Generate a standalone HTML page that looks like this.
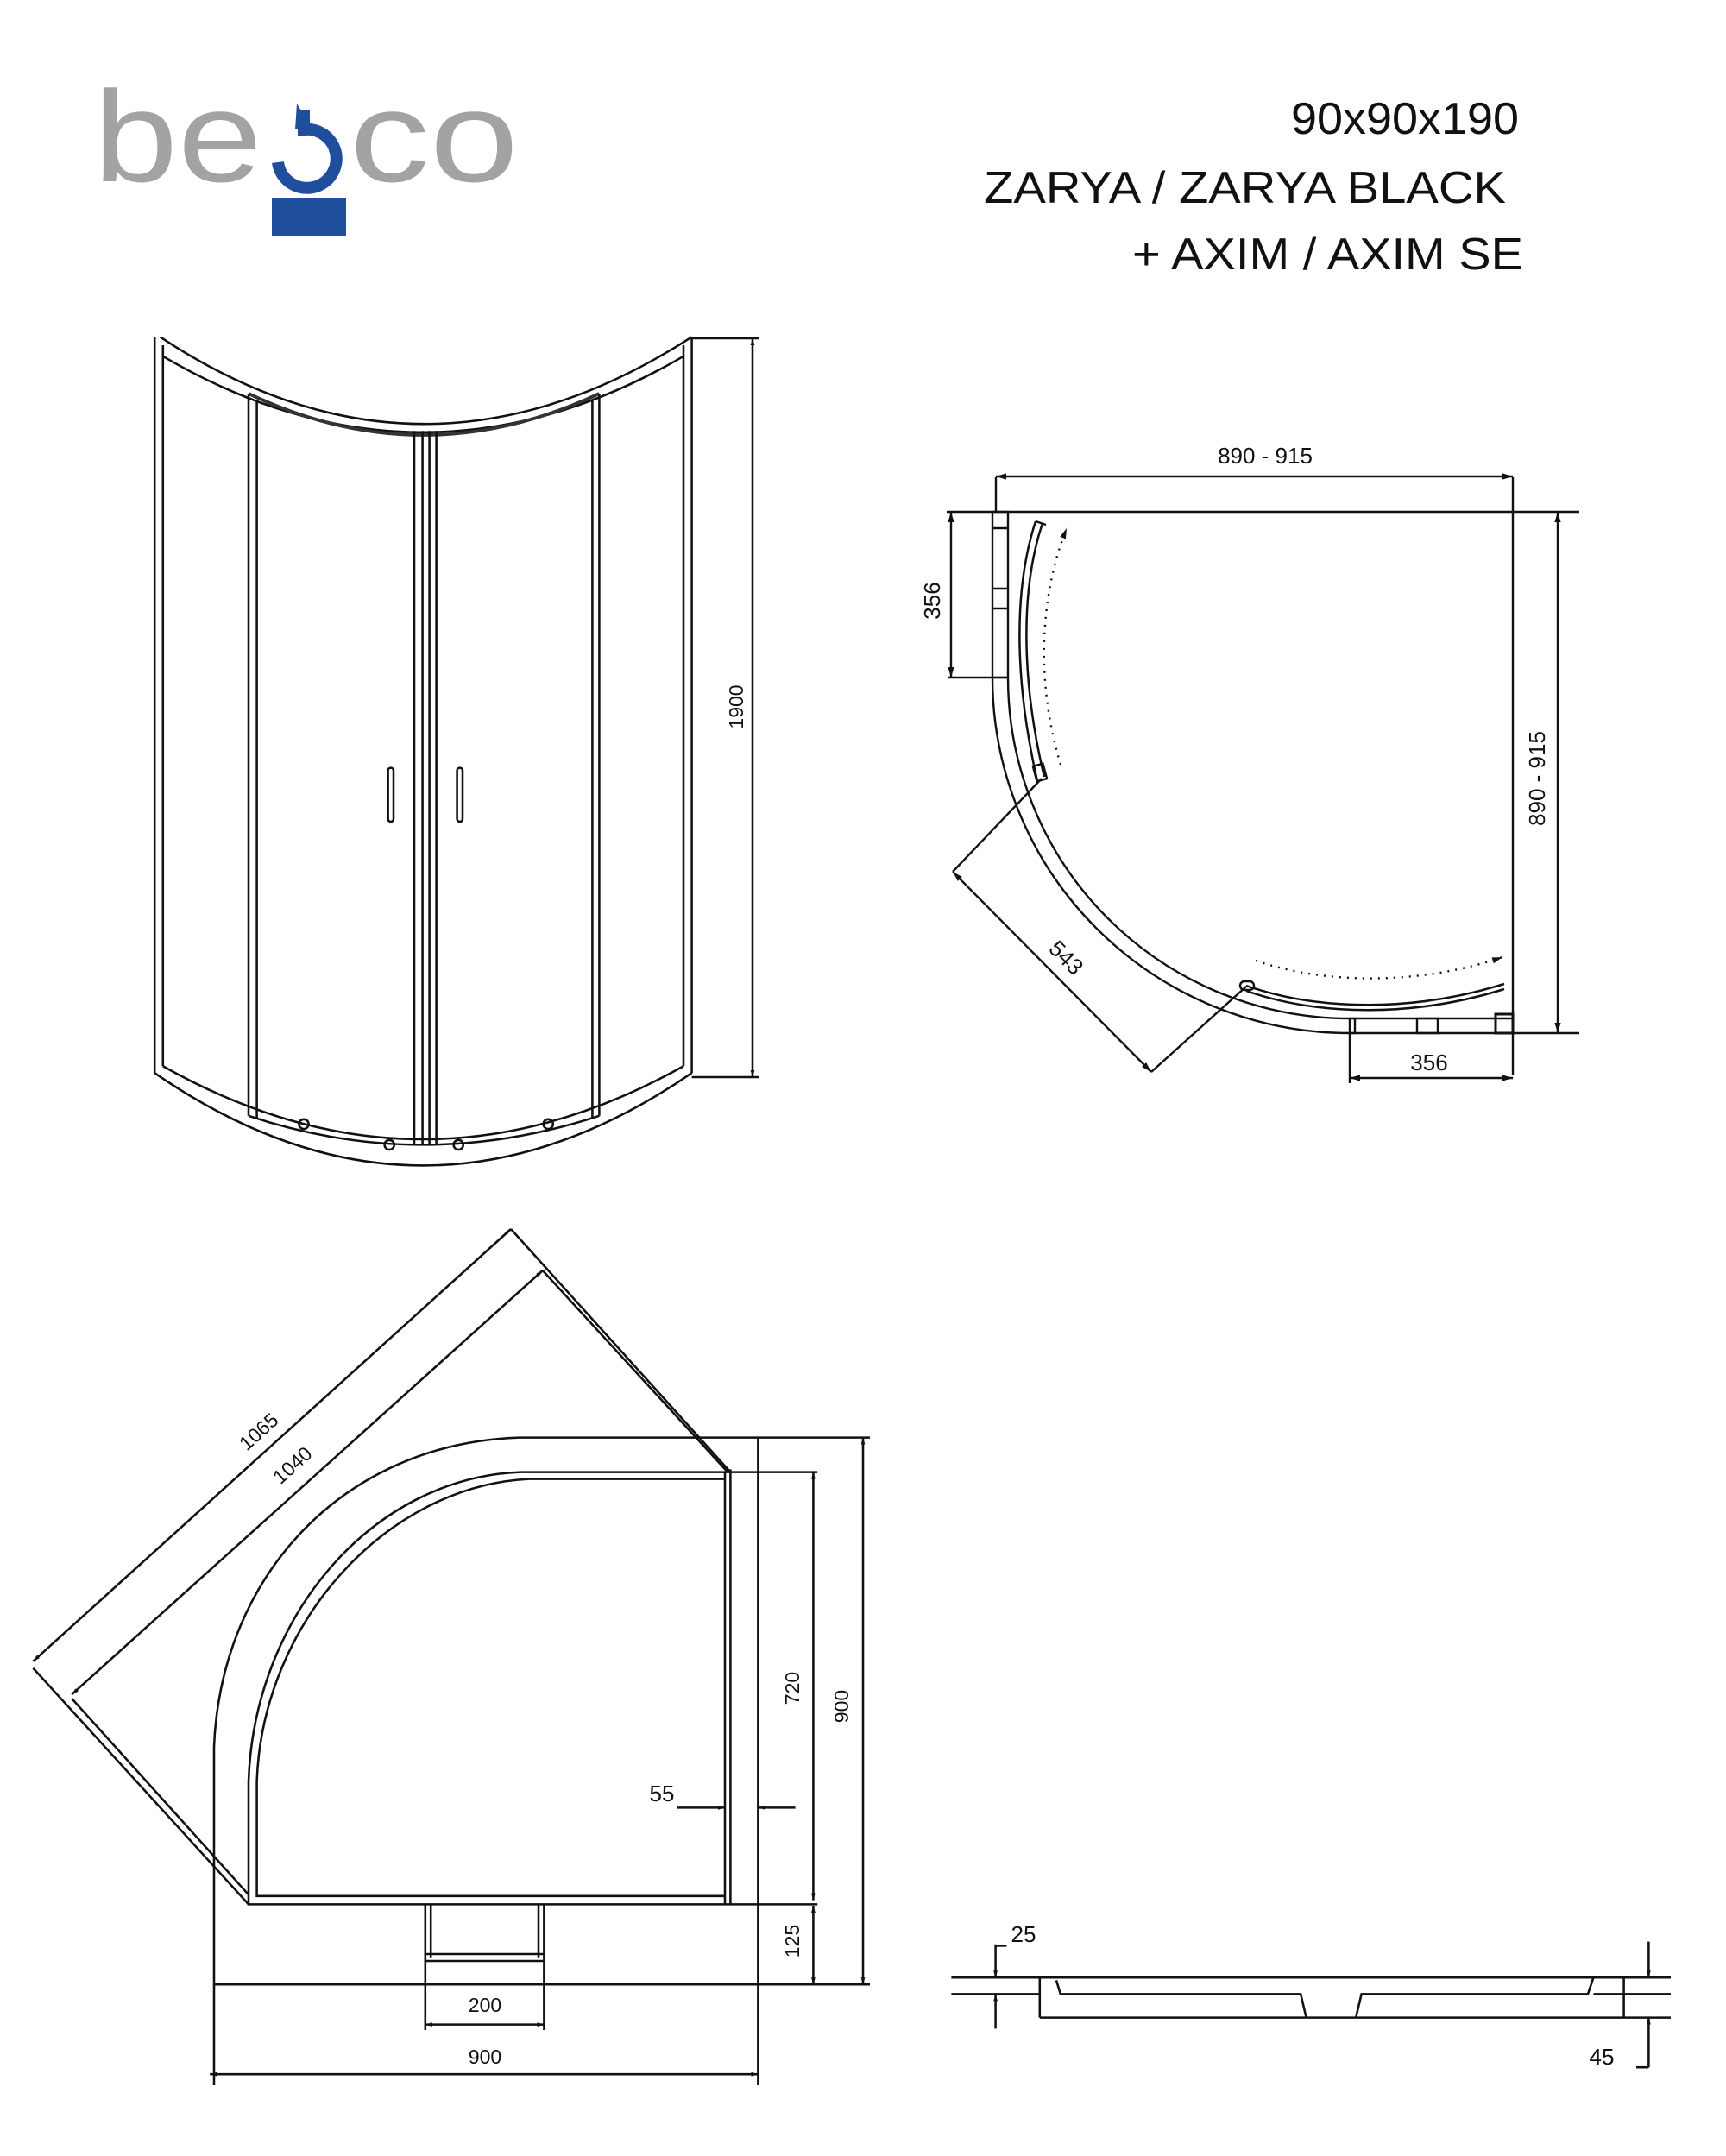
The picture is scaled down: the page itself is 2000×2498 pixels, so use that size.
<!DOCTYPE html>
<html><head><meta charset="utf-8"><style>
html,body{margin:0;padding:0;background:#fff;}
svg{display:block;}
text{font-family:"Liberation Sans",sans-serif;fill:#111;}
</style></head><body>
<svg width="2000" height="2498" viewBox="0 0 2000 2498" xmlns="http://www.w3.org/2000/svg">
<defs>
<marker id="a" viewBox="0 0 10 10" refX="10" refY="5" markerWidth="5" markerHeight="5" orient="auto-start-reverse" markerUnits="userSpaceOnUse"><path d="M0,2 L10,5 L0,8z" fill="#111"/></marker>
<marker id="b" viewBox="0 0 10 10" refX="10" refY="5" markerWidth="12" markerHeight="12" orient="auto-start-reverse" markerUnits="userSpaceOnUse"><path d="M0,2 L10,5 L0,8z" fill="#111"/></marker>
</defs>
<rect width="2000" height="2498" fill="#fff"/>

<!-- logo -->
<text x="108" y="210" font-size="150" style="fill:#a3a3a3" textLength="196" lengthAdjust="spacingAndGlyphs">be</text>
<text x="405" y="210" font-size="150" style="fill:#a3a3a3" textLength="196" lengthAdjust="spacingAndGlyphs">co</text>
<path d="M352,128 L352,150 A34,34 0 1 1 322,188" fill="none" stroke="#1f4f9c" stroke-width="14"/>
<path d="M344,120 L362,150 L342,150z" fill="#1f4f9c"/>
<rect x="315" y="229" width="86" height="44" fill="#1f4f9c"/>

<!-- title -->
<text x="1496" y="155" font-size="52" textLength="264" lengthAdjust="spacingAndGlyphs">90x90x190</text>
<text x="1140" y="235" font-size="52" textLength="605" lengthAdjust="spacingAndGlyphs">ZARYA / ZARYA BLACK</text>
<text x="1312" y="312" font-size="52" textLength="453" lengthAdjust="spacingAndGlyphs">+ AXIM / AXIM SE</text>

<g transform="scale(1.6)" fill="none" stroke="#111" stroke-width="1.6">
<!-- front view -->
<path d="M116,244 Q306,370 501,244"/>
<path d="M118,258 Q306,368 495,258"/>
<path d="M180,285 Q306,345 434,285" stroke-width="2.4" stroke="#333"/>
<path d="M112,777 Q306,911 501,777"/>
<path d="M118,772 Q306,878 495,772"/>
<path d="M180,808 Q306,850 434,808"/>
<line x1="112" y1="244" x2="112" y2="777"/>
<line x1="118" y1="250" x2="118" y2="772"/>
<line x1="180" y1="285" x2="180" y2="808"/>
<line x1="186" y1="290" x2="186" y2="810"/>
<line x1="300" y1="312" x2="300" y2="829"/>
<line x1="306" y1="312" x2="306" y2="829"/>
<line x1="311" y1="312" x2="311" y2="829"/>
<line x1="316" y1="312" x2="316" y2="829"/>
<line x1="429" y1="290" x2="429" y2="810"/>
<line x1="434" y1="285" x2="434" y2="808"/>
<line x1="495" y1="250" x2="495" y2="772"/>
<line x1="501" y1="244" x2="501" y2="777"/>
<rect x="281" y="556" width="4" height="39" rx="2"/>
<rect x="331" y="556" width="4" height="39" rx="2"/>
<circle cx="220" cy="814" r="3.5"/><circle cx="282" cy="829" r="3.5"/>
<circle cx="332" cy="829" r="3.5"/><circle cx="397" cy="814" r="3.5"/>
<line x1="501" y1="245" x2="550" y2="245"/>
<line x1="501" y1="780" x2="550" y2="780"/>
<line x1="545" y1="245" x2="545" y2="780" marker-start="url(#a)" marker-end="url(#a)"/>

<!-- tray -->
<path d="M630,1041 L376,1041 C250,1045 160,1140 155,1265 L155,1510"/>
<line x1="155" y1="1437" x2="630" y2="1437"/>
<line x1="549" y1="1041" x2="549" y2="1510"/>
<path d="M592,1066 L377,1066 C270,1070 184,1170 180,1290 L180,1379 L592,1379"/>
<path d="M525,1071 L383,1071 C280,1076 190,1175 186,1290 L186,1373 L525,1373"/>
<line x1="525" y1="1066" x2="525" y2="1379"/>
<line x1="529" y1="1064" x2="529" y2="1379"/>
<line x1="24" y1="1203" x2="370" y2="890" marker-start="url(#a)" marker-end="url(#a)"/>
<line x1="52" y1="1227" x2="393" y2="920" marker-start="url(#a)" marker-end="url(#a)"/>
<line x1="370" y1="890" x2="529" y2="1066"/>
<line x1="393" y1="920" x2="527" y2="1066"/>
<line x1="24" y1="1208" x2="180" y2="1379"/>
<line x1="52" y1="1230" x2="180" y2="1372"/>
<line x1="308" y1="1379" x2="308" y2="1470"/>
<line x1="394" y1="1379" x2="394" y2="1470"/>
<line x1="312" y1="1379" x2="312" y2="1418"/>
<line x1="390" y1="1379" x2="390" y2="1418"/>
<line x1="308" y1="1415" x2="394" y2="1415"/>
<line x1="308" y1="1420" x2="394" y2="1420"/>
<line x1="589" y1="1066" x2="589" y2="1376" marker-start="url(#a)" marker-end="url(#a)"/>
<line x1="589" y1="1380" x2="589" y2="1437" marker-start="url(#a)" marker-end="url(#a)"/>
<line x1="625" y1="1041" x2="625" y2="1437" marker-start="url(#a)" marker-end="url(#a)"/>
<line x1="490" y1="1309" x2="525" y2="1309" marker-end="url(#a)"/>
<line x1="576" y1="1309" x2="549" y2="1309" marker-end="url(#a)"/>
<line x1="308" y1="1466" x2="394" y2="1466" marker-start="url(#a)" marker-end="url(#a)"/>
<line x1="152" y1="1502" x2="549" y2="1502" marker-start="url(#a)" marker-end="url(#a)"/>

<!-- side profile -->
<line x1="689" y1="1432" x2="1210" y2="1432"/>
<line x1="689" y1="1444" x2="753" y2="1444"/>
<line x1="1154" y1="1444" x2="1210" y2="1444"/>
<line x1="753" y1="1461" x2="1210" y2="1461"/>
<line x1="753" y1="1432" x2="753" y2="1461"/>
<path d="M1154,1432 L1150,1444 L986,1444 L982,1461 M946,1461 L942,1444 L768,1444 L765,1434"/>
<line x1="1176" y1="1432" x2="1176" y2="1461"/>
<line x1="721" y1="1408" x2="721" y2="1432" marker-end="url(#a)"/>
<line x1="721" y1="1469" x2="721" y2="1444" marker-end="url(#a)"/>
<line x1="721" y1="1409" x2="729" y2="1409"/>
<line x1="1194" y1="1406" x2="1194" y2="1432" marker-end="url(#a)"/>
<line x1="1194" y1="1497" x2="1194" y2="1461" marker-end="url(#a)"/>
<line x1="1194" y1="1497" x2="1185" y2="1497"/>
</g>

<g font-size="23" text-anchor="middle">
<text transform="translate(855,819) rotate(-90)" dominant-baseline="middle">1900</text>
<text transform="translate(301,1660) rotate(-42)" dominant-baseline="middle">1065</text>
<text transform="translate(340,1699) rotate(-42)" dominant-baseline="middle">1040</text>
<text transform="translate(920,1956) rotate(-90)" dominant-baseline="middle">720</text>
<text transform="translate(977,1977) rotate(-90)" dominant-baseline="middle">900</text>
<text transform="translate(920,2249) rotate(-90)" dominant-baseline="middle">125</text>
<text x="767" y="2087" font-size="26">55</text>
<text x="562" y="2331">200</text>
<text x="562" y="2391">900</text>
<text x="1186" y="2250" font-size="26">25</text>
<text x="1856" y="2392" font-size="26">45</text>
</g>

<!-- top view (actual coords) -->
<g fill="none" stroke="#111" stroke-width="2.4">
<line x1="1097" y1="593" x2="1830" y2="593"/>
<line x1="1753" y1="553" x2="1753" y2="1245"/>
<line x1="1753" y1="1197" x2="1830" y2="1197"/>
<line x1="1154" y1="553" x2="1154" y2="593"/>
<line x1="1154" y1="552" x2="1753" y2="552" marker-start="url(#b)" marker-end="url(#b)"/>
<line x1="1805" y1="593" x2="1805" y2="1197" marker-start="url(#b)" marker-end="url(#b)"/>
<rect x="1150" y="593" width="18" height="192"/>
<line x1="1150" y1="612" x2="1168" y2="612"/>
<line x1="1150" y1="682" x2="1168" y2="682"/>
<line x1="1150" y1="705" x2="1168" y2="705"/>
<line x1="1098" y1="785" x2="1168" y2="785"/>
<line x1="1102" y1="593" x2="1102" y2="785" marker-start="url(#b)" marker-end="url(#b)"/>
<path d="M1150,785 A414,412 0 0 0 1564,1197"/>
<path d="M1168,785 A396,395 0 0 0 1564,1180"/>
<line x1="1564" y1="1180" x2="1753" y2="1180"/>
<line x1="1564" y1="1197" x2="1753" y2="1197"/>
<rect x="1564" y="1180" width="6" height="17"/>
<rect x="1642" y="1180" width="24" height="17"/>
<rect x="1733" y="1175" width="20" height="22" stroke-width="3"/>
<line x1="1564" y1="1197" x2="1564" y2="1255"/>
<line x1="1564" y1="1249" x2="1753" y2="1249" marker-start="url(#b)" marker-end="url(#b)"/>
<path d="M1202,905 C1178,800 1172,690 1200,604 M1210,900 C1186,800 1180,690 1208,606" stroke-width="2.5"/>
<path d="M1200,604 L1212,608" />
<rect x="1199" y="886" width="12" height="18" transform="rotate(-15 1205 895)"/>
<path d="M1444,1142 C1530,1172 1640,1172 1743,1140 M1444,1148 C1530,1178 1640,1178 1743,1146" stroke-width="2.5"/>
<rect x="1437" y="1137" width="16" height="10" rx="5"/>
<path d="M1229,886 C1200,790 1205,690 1236,612" stroke-dasharray="2,7" marker-end="url(#b)"/>
<path d="M1455,1113 C1540,1142 1650,1140 1741,1109" stroke-dasharray="2,7" marker-end="url(#b)"/>
<line x1="1104" y1="1010" x2="1334" y2="1242" marker-start="url(#b)" marker-end="url(#b)"/>
<line x1="1104" y1="1010" x2="1207" y2="902"/>
<line x1="1334" y1="1242" x2="1444" y2="1143"/>
</g>
<g font-size="26" text-anchor="middle">
<text x="1466" y="537">890 - 915</text>
<text transform="translate(1082,696) rotate(-90)" dominant-baseline="middle">356</text>
<text transform="translate(1783,902) rotate(-90)" dominant-baseline="middle">890 - 915</text>
<text transform="translate(1234,1111) rotate(45)" dominant-baseline="middle">543</text>
<text x="1656" y="1240">356</text>
</g>
</svg>
</body></html>
